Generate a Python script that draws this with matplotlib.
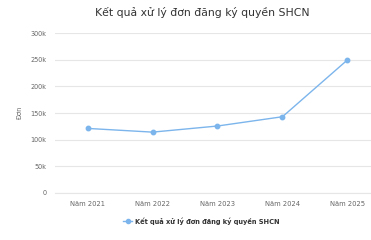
import matplotlib
matplotlib.use("Agg")
import matplotlib.pyplot as plt
from matplotlib.ticker import FixedLocator, FuncFormatter

categories = ["Năm 2021", "Năm 2022", "Năm 2023", "Năm 2024", "Năm 2025"]
values = [121000, 114000, 125500, 143000, 250000]
yticks = [0, 50000, 100000, 150000, 200000, 250000, 300000]
series_name = "Kết quả xử lý đơn đăng ký quyền SHCN"
title = "Kết quả xử lý đơn đăng ký quyền SHCN"

W, H = 371, 240
fig = plt.figure(figsize=(W / 100, H / 100), dpi=100)
fig.patch.set_facecolor("white")

# axes in pixel coords: left 55, right 380 (chart cropped), top 33, bottom 193
left, right, top, bottom = 55, 380, 33.3, 192.7
ax = fig.add_axes([left / W, 1 - bottom / H, (right - left) / W, (bottom - top) / H])

color = "#7cb5ec"
x = list(range(len(categories)))
ax.plot(x, values, color=color, lw=1.0, marker="o", ms=3.2, zorder=3, clip_on=False)

ax.set_xlim(-0.5, len(categories) - 0.5)
ax.set_ylim(0, 300000)
ax.yaxis.set_major_locator(FixedLocator(yticks))
ax.yaxis.set_major_formatter(FuncFormatter(lambda v, p: "0" if v == 0 else f"{int(v/1000)}k"))
ax.set_xticks(x)
ax.set_xticklabels(categories)

ax.grid(axis="y", color="#e6e6e6", lw=0.8)
ax.set_axisbelow(True)
for s in ["top", "right", "left"]:
    ax.spines[s].set_visible(False)
ax.spines["bottom"].set_color("#e6e6e6")
ax.spines["bottom"].set_linewidth(0.8)
ax.tick_params(axis="both", length=0, colors="#666666")
ax.tick_params(axis="y", labelsize=4.7, pad=6)
ax.tick_params(axis="x", labelsize=4.9, pad=6)

fig.text(20 / W, 1 - 113 / H, "Đơn", rotation=90, ha="center", va="center",
         fontsize=4.8, color="#666666")
fig.text(202 / W, 1 - 12 / H, title, ha="center", va="center", fontsize=7.8, color="#333333")

# legend
ly = 1 - 221 / H
fig.lines.append(plt.Line2D([123 / W, 132 / W], [ly, ly], transform=fig.transFigure,
                            color=color, lw=1.0))
fig.lines.append(plt.Line2D([127.5 / W], [ly], transform=fig.transFigure, marker="o",
                            ms=3.0, color=color))
fig.text(135 / W, ly, series_name, ha="left", va="center", fontsize=4.8,
         color="#333333", fontweight="bold")

fig.savefig("out.png", dpi=100, facecolor="white")
